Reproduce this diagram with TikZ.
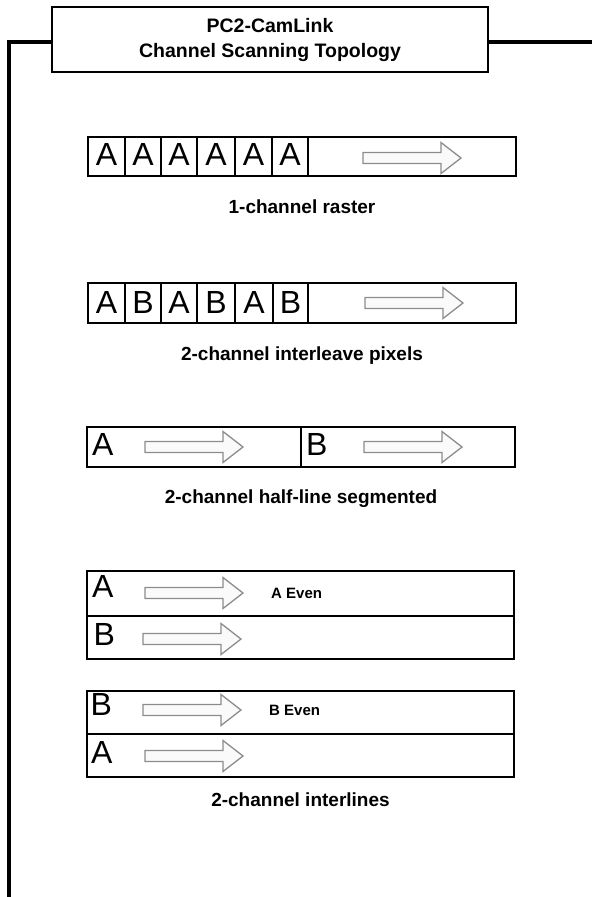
\documentclass[tikz,border=0pt]{standalone}
\usepackage{fontspec}
\setmainfont{Liberation Sans}
\usepackage{tikz}
\usetikzlibrary{positioning}
\definecolor[named]{arrowgrey}{rgb}{0.55,0.55,0.55}
\definecolor[named]{arrowfill}{rgb}{0.98,0.98,0.98}

\tikzset{fwd/.pic={
  \draw[arrowline] (0,-5.5) -- (78,-5.5) -- (78,-15.5) -- (98,0)
        -- (78,15.5) -- (78,5.5) -- (0,5.5) -- cycle;}}

\begin{document}
\begin{tikzpicture}
       [x=1pt,y=-1pt,
        titlebox/.style={shape=rectangle,draw=black,line width=2pt,
                         minimum width=436pt,minimum height=65pt,align=center,
                         font=\bfseries\fontsize{19.5}{25}\selectfont},
        scanbox/.style={shape=rectangle,draw=black,line width=2.2pt,
                        minimum width=428pt,inner sep=0pt},
        chan/.style={font=\fontsize{32}{32}\selectfont,inner sep=0pt},
        caption/.style={font=\bfseries\fontsize{19}{22}\selectfont,
                        inner sep=0pt,text height=14pt,text depth=4pt},
        even/.style={font=\bfseries\fontsize{15}{18}\selectfont,
                     inner sep=0pt,anchor=west},
        cell/.style={line width=1.2pt},
        split/.style={line width=2pt},
        arrowline/.style={draw=arrowgrey,fill=arrowfill,line width=1.3pt},
        frame/.style={line width=4.5pt}]
       \useasboundingbox (0,0) rectangle (592,897);

       % title and frame
       \node [titlebox] (title) at (270,39.5)
             {PC2-CamLink\\Channel Scanning Topology};
       \draw [frame] ([yshift=-2.5pt]title.west) -| (9,897);
       \draw [frame] ([yshift=-2.5pt]title.east) -- (592,42);

       % 1-channel raster
       \node [scanbox,minimum height=39pt] (r1) at (302,156.5) {};
       \foreach \x in {125,161,197,235,272,308}
         \draw [cell] (\x,0 |- r1.north) -- (\x,0 |- r1.south);
       \foreach \x [count=\i] in {106.5,143,179,216,253.5,290}
         \node [chan] (a\i) at (\x,154.5) {A};
       \pic at (363,158) {fwd};
       \node [caption,below=22pt of r1] (c1) {1-channel raster};

       % 2-channel interleave pixels
       \node [scanbox,minimum height=40pt] (r2) at (302,303) {};
       \foreach \x in {125,161,197,235,273,308}
         \draw [cell] (\x,0 |- r2.north) -- (\x,0 |- r2.south);
       \foreach \x/\t [count=\i] in {106.5/A,143/B,179/A,216/B,254/A,290.5/B}
         \node [chan] (b\i) at (\x,302) {\t};
       \pic at (365,303) {fwd};
       \node [caption,below=22pt of r2] (c2) {2-channel interleave pixels};

       % 2-channel half-line segmented
       \node [scanbox,minimum height=40pt] (r3) at (301,447) {};
       \draw [cell,line width=1.5pt] (301,0 |- r3.north) -- (301,0 |- r3.south);
       \node [chan,anchor=west] (ha) at (92,444) {A};
       \node [chan,anchor=west] (hb) at (306,444) {B};
       \pic at (145,447) {fwd};
       \pic at (364,447) {fwd};
       \node [caption,below=21pt of r3] (c3) {2-channel half-line segmented};

       % 2-channel interlines
       \node [scanbox,minimum width=427pt,minimum height=88pt] (r4) at (300.5,615) {};
       \draw [split] (r4.west |- 0,616) -- (r4.east |- 0,616);
       \node [chan,anchor=west] (la) at (92,586.5) {A};
       \node [chan,anchor=west] (lb) at (93.5,634) {B};
       \pic at (145,593) {fwd};
       \pic at (143,639) {fwd};
       \node [even] (ea) at (271,593) {A Even};

       \node [scanbox,minimum width=427pt,minimum height=86pt] (r5) at (300.5,734) {};
       \draw [split] (r5.west |- 0,734) -- (r5.east |- 0,734);
       \node [chan,anchor=west] (mb) at (90.5,704) {B};
       \node [chan,anchor=west] (ma) at (91,752.5) {A};
       \pic at (143,710) {fwd};
       \pic at (145,756) {fwd};
       \node [even] (eb) at (269,710) {B Even};
       \node [caption,below=14pt of r5] (c4) {2-channel interlines};
\end{tikzpicture}
\end{document}
